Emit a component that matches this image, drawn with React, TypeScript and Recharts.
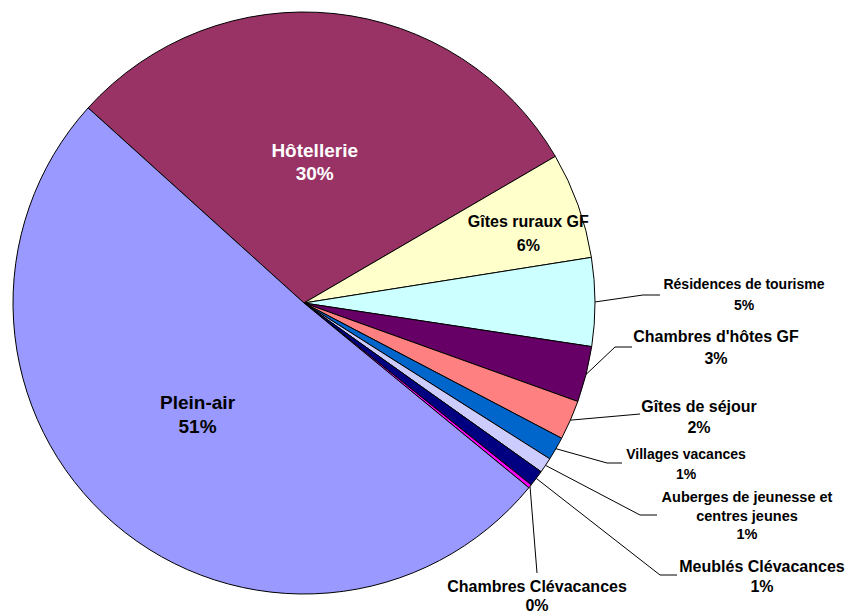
import React from "react";
import { PieChart, Pie, Cell } from "recharts";

// share of beds by type of accommodation (%), clockwise from the top-left
const categories = [
  "Hôtellerie",
  "Gîtes ruraux GF",
  "Résidences de tourisme",
  "Chambres d'hôtes GF",
  "Gîtes de séjour",
  "Villages vacances",
  "Auberges de jeunesse et centres jeunes",
  "Meublés Clévacances",
  "Chambres Clévacances",
  "Plein-air",
];

const shares = [29.9, 5.9, 4.9, 3.1, 2.2, 1.3, 0.85, 0.9, 0.2, 50.75];

const sliceColors = [
  "#993366",
  "#FFFFCC",
  "#CCFFFF",
  "#660066",
  "#FF8080",
  "#0066CC",
  "#CCCCFF",
  "#000080",
  "#FF00FF",
  "#9999FF",
];

// label text as it is broken over lines
const labelLines = [
  ["Hôtellerie"],
  ["Gîtes ruraux GF"],
  ["Résidences de tourisme"],
  ["Chambres d'hôtes GF"],
  ["Gîtes de séjour"],
  ["Villages vacances"],
  ["Auberges de jeunesse et", "centres jeunes"],
  ["Meublés Clévacances"],
  ["Chambres Clévacances"],
  ["Plein-air"],
];

const data = categories.map((name, i) => ({ name, value: shares[i] }));

const FONT = "'Liberation Sans', Arial, sans-serif";
const RAD = Math.PI / 180;

// label placement, relative to the pie centre
type InLabel = { kind: "in"; dist: number; da: number; lh: number; size: number; color: string };
type OutLabel = {
  kind: "out";
  size: number;
  elbow: [number, number];
  end: [number, number];
  tx: number;
  ys: number[];
};
const LAYOUT: (InLabel | OutLabel)[] = [
  { kind: "in", dist: 0.488, da: 1.6, lh: 23, size: 19, color: "#fff" },
  { kind: "in", dist: 0.808, da: -2.2, lh: 24, size: 16, color: "#000" },
  { kind: "out", size: 14, elbow: [339, -8], end: [356, -8], tx: 440, ys: [-19, 2] },
  { kind: "out", size: 16, elbow: [311, 44], end: [328, 44], tx: 412, ys: [33, 55] },
  { kind: "out", size: 16, elbow: [336, 111], end: [336, 111], tx: 395, ys: [103, 124] },
  { kind: "out", size: 14, elbow: [303, 160], end: [318, 160], tx: 382, ys: [151, 171] },
  { kind: "out", size: 14.5, elbow: [336, 212], end: [353, 212], tx: 443, ys: [194, 213, 231] },
  { kind: "out", size: 16, elbow: [356, 272], end: [373, 272], tx: 458, ys: [263, 283] },
  { kind: "out", size: 16, elbow: [233, 270], end: [233, 270], tx: 233, ys: [283, 302] },
  { kind: "in", dist: 0.528, da: -3.1, lh: 24, size: 19, color: "#000" },
];

const renderLabel = (props: any) => {
  const { cx, cy, midAngle, outerRadius, index, percent } = props;
  const spec = LAYOUT[index];
  const lines = [...labelLines[index], `${Math.round(percent * 100)}%`];
  const textProps = {
    fontFamily: FONT,
    fontWeight: 700,
    fontSize: spec.size,
    textAnchor: "middle" as const,
    dominantBaseline: "central" as const,
  };

  if (spec.kind === "in") {
    const a = (midAngle + spec.da) * RAD;
    const d = spec.dist * outerRadius;
    const x = cx + Math.cos(a) * d;
    const y = cy - Math.sin(a) * d;
    return (
      <text key={`lbl-${index}`} {...textProps} fill={spec.color}>
        {lines.map((l, i) => (
          <tspan key={i} x={x} y={y + (i - (lines.length - 1) / 2) * spec.lh}>
            {l}
          </tspan>
        ))}
      </text>
    );
  }

  const a = midAngle * RAD;
  const sx = cx + Math.cos(a) * outerRadius;
  const sy = cy - Math.sin(a) * outerRadius;
  const pts = `${sx},${sy} ${cx + spec.elbow[0]},${cy + spec.elbow[1]} ${cx + spec.end[0]},${cy + spec.end[1]}`;
  return (
    <g key={`lbl-${index}`}>
      <polyline points={pts} fill="none" stroke="#000" strokeWidth={1} />
      <text {...textProps} fill="#000">
        {lines.map((l, i) => (
          <tspan key={i} x={cx + spec.tx} y={cy + spec.ys[i]}>
            {l}
          </tspan>
        ))}
      </text>
    </g>
  );
};

export default function App() {
  return (
    <div style={{ position: "absolute", left: 0, top: 0, background: "#fff" }}>
      <PieChart width={847} height={614} margin={{ top: 0, right: 0, bottom: 0, left: 0 }}>
        <Pie
          data={data}
          dataKey="value"
          nameKey="name"
          cx={304}
          cy={303}
          outerRadius={291}
          startAngle={137.9}
          endAngle={137.9 - 360}
          stroke="#000"
          strokeWidth={1}
          label={renderLabel}
          labelLine={false}
          isAnimationActive={false}
        >
          {data.map((entry, i) => (
            <Cell key={`cell-${i}`} fill={sliceColors[i]} />
          ))}
        </Pie>
      </PieChart>
    </div>
  );
}
